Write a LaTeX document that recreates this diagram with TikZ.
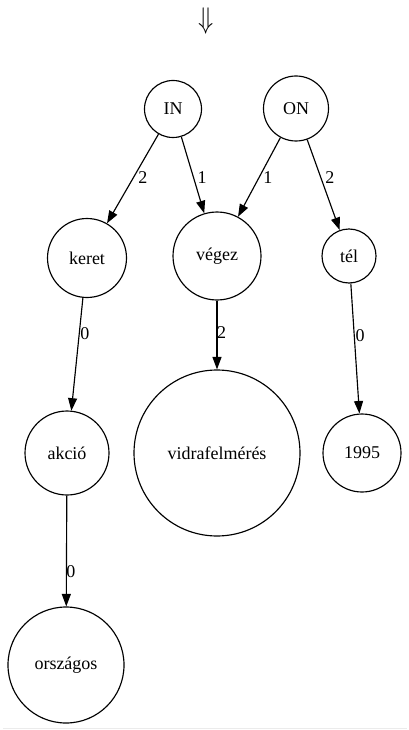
\documentclass[tikz,border=0pt]{standalone}
\usepackage{fontspec}
\setmainfont{Liberation Serif}
\usetikzlibrary{arrows.meta}
\begin{document}
\begin{tikzpicture}[x=1pt,y=-1pt,
  tnode/.style={circle,draw,line width=1.15pt,inner sep=0pt,
    font=\fontsize{18}{20}\selectfont},
  link/.style={line width=1.15pt,-{Triangle[length=12.5pt,width=9pt]}},
  lbl/.style={inner sep=0pt,font=\fontsize{18}{20}\selectfont}]
\useasboundingbox (0,0) rectangle (409,730);
% derivation arrow above the tree
\node[inner sep=0pt,yscale=1.2] (down) at (206.5,21) {\fontsize{40}{40}\selectfont$\Downarrow$};
% tree nodes
\node[tnode,minimum size=57pt] (IN) at (173,109) {IN};
\node[tnode,minimum size=65pt] (ON) at (296,108.5) {ON};
\node[tnode,minimum size=79pt] (keret) at (87,258) {keret};
\node[tnode,minimum size=88pt] (vegez) at (217,256) {végez};
\node[tnode,minimum size=54pt] (tel) at (349,256) {tél};
\node[tnode,minimum size=84pt] (akcio) at (67,453) {akció};
\node[tnode,minimum size=166pt] (vidra) at (217,453) {vidrafelmérés};
\node[tnode,minimum size=78pt] (ev) at (362,453) {1995};
\node[tnode,minimum size=116pt] (orszagos) at (66,665) {országos};
% labelled edges
\draw[link] (IN) -- node[lbl,pos=0.49,xshift=9.5pt] {2} (keret);
\draw[link] (IN) -- node[lbl,pos=0.53,xshift=8.6pt] {1} (vegez);
\draw[link] (ON) -- node[lbl,pos=0.5,xshift=8.7pt] {1} (vegez);
\draw[link] (ON) -- node[lbl,pos=0.415,xshift=9.3pt] {2} (tel);
\draw[link] (keret) -- node[lbl,pos=0.316,xshift=5.7pt] {0} (akcio);
\draw[link] (vegez) -- node[lbl,pos=0.47,xshift=4.5pt] {2} (vidra);
\draw[link] (tel) -- node[lbl,pos=0.397,xshift=5.8pt] {0} (ev);
\draw[link] (akcio) -- node[lbl,pos=0.69,xshift=4.5pt] {0} (orszagos);
% thin rule along the bottom edge
\coordinate (ruleL) at (3,728);
\coordinate (ruleR) at (407,728);
\draw[black!8,line width=1pt] (ruleL) -- (ruleR);
\end{tikzpicture}
\end{document}
